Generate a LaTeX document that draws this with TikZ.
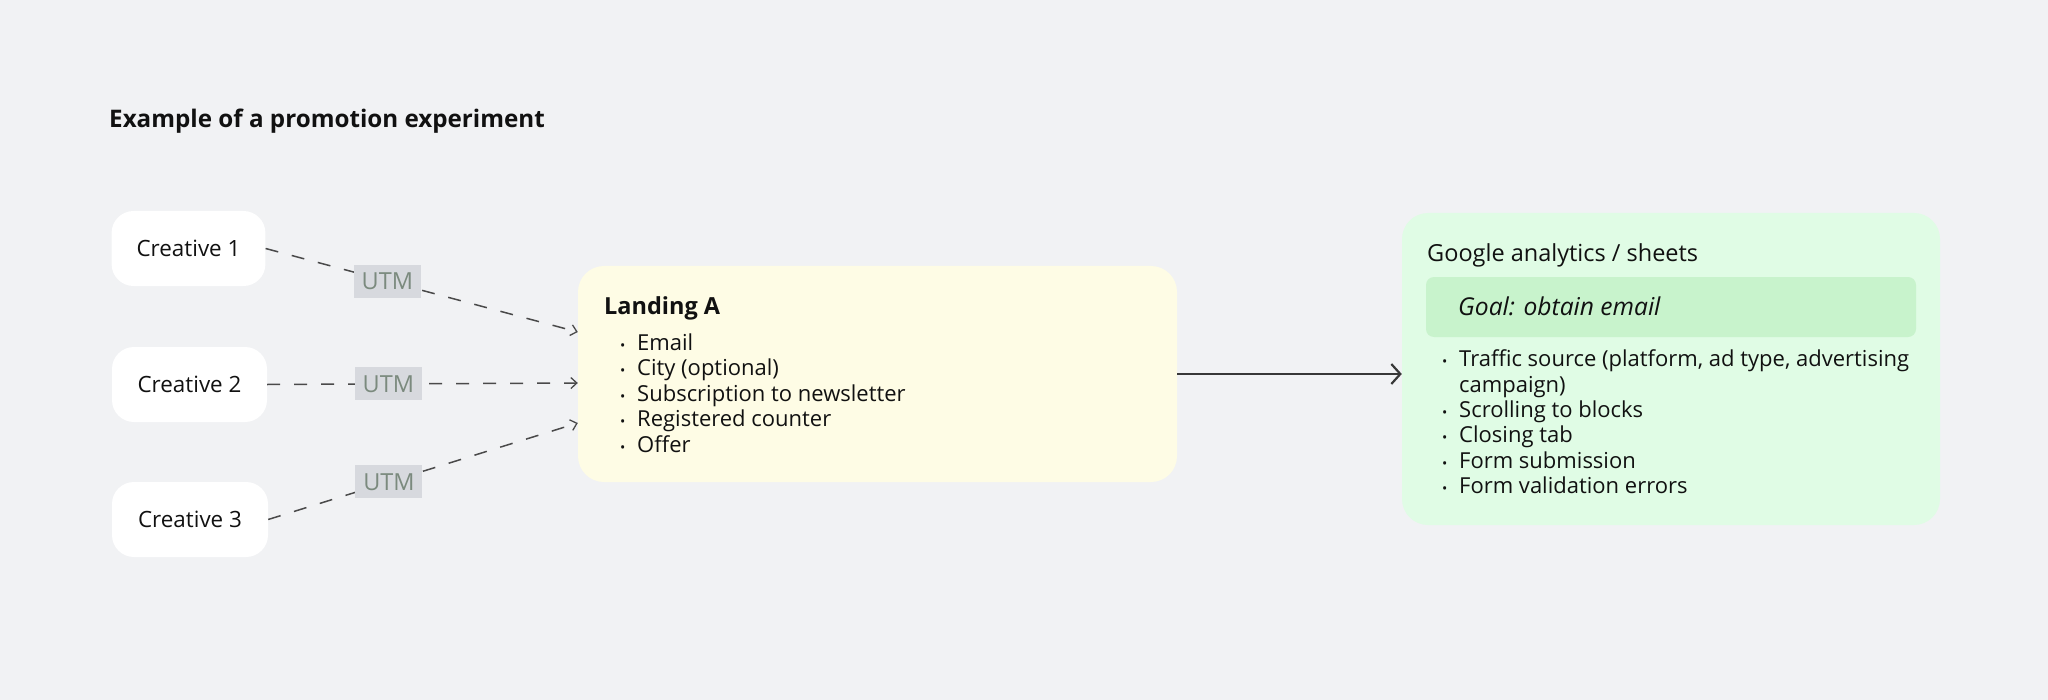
\documentclass[tikz,border=0pt]{standalone}
\usepackage{fontspec}
\setmainfont{Open Sans}
\usetikzlibrary{arrows.meta,calc}
\definecolor{bg}{HTML}{F1F2F4}
\definecolor{landfill}{HTML}{FEFCE5}
\definecolor{greenfill}{HTML}{E0FCE5}
\definecolor{goalfill}{HTML}{C8F3CC}
\definecolor{utmfill}{HTML}{D7D9DE}
\definecolor{utmtext}{HTML}{7B8A7E}
\definecolor{txt}{HTML}{111111}
\definecolor{dashcol}{HTML}{4A4A4A}
\definecolor{solidcol}{HTML}{383838}
\tikzset{
  creative/.style={fill=white, rounded corners=22bp, minimum height=75bp, inner xsep=25bp, inner ysep=0pt, text=txt, font=\fontsize{22.4bp}{27bp}\selectfont},
  utm/.style={fill=utmfill, text=utmtext, inner sep=0pt, minimum width=67bp, minimum height=33bp, font=\fontsize{23.5bp}{28bp}\selectfont},
  flow/.style={draw=dashcol, line width=1.5bp, dash pattern=on 13bp off 14bp, -{Straight Barb[length=6bp,width=11bp,line width=1.3bp]}},
  mainflow/.style={draw=solidcol, line width=2.2bp, -{Straight Barb[length=9bp,width=20bp,line width=2.2bp]}},
  panel/.style={rounded corners=26bp, inner sep=0pt},
  item/.style={anchor=base west, inner sep=0pt, text=txt, font=\fontsize{22bp}{25bp}\selectfont},
  bul/.style={anchor=base west, inner sep=0pt, text=txt, font=\fontsize{14bp}{25bp}\selectfont},
  heading/.style={anchor=base west, inner sep=0pt, text=txt},
}
\begin{document}
\begin{tikzpicture}[x=1bp, y=-1bp]
\useasboundingbox[fill=bg] (0,0) rectangle (2048,700);

% title
\node[heading, font=\fontsize{24.2bp}{30bp}\selectfont\bfseries] (title) at (109,128) {Example of a promotion experiment};

% creatives
\node[creative, minimum width=153bp] (c1) at (188.5,248.5) {Creative 1};
\node[creative, minimum width=155bp] (c2) at (189.5,384.5) {Creative 2};
\node[creative, minimum width=156bp] (c3) at (190,519.5) {Creative 3};

% landing
\node[panel, fill=landfill, minimum width=599bp, minimum height=216bp] (L) at (877.5,374) {};
\node[heading, font=\fontsize{23.5bp}{28bp}\selectfont\bfseries] (Lt) at (604,314) {Landing A};
\foreach \t [count=\i] in {{Email},{City (optional)},{Subscription to newsletter},{Registered counter},{Offer}} {
  \node[bul] (lb\i) at (620,{350+(\i-1)*25.5}) {•};
  \node[item] (li\i) at (637,{350+(\i-1)*25.5}) {\t};
}

% google
\node[panel, fill=greenfill, minimum width=538bp, minimum height=312bp] (G) at (1671,369) {};
\node[heading, font=\fontsize{23.5bp}{28bp}\selectfont] (Gt) at (1427,261) {Google analytics / sheets};
\node[fill=goalfill, rounded corners=8bp, minimum width=490bp, minimum height=60bp, inner sep=0pt] (goal) at (1671,307) {};
\node[heading, font=\fontsize{24.6bp}{28bp}\selectfont\itshape] (goalt) at (1458,315) {Goal: obtain email};
\node[bul] (gb1) at (1442,366) {•};
\node[item] (gi1) at (1459,366) {Traffic source (platform, ad type, advertising};
\node[item] (gi1b) at (1459,392) {campaign)};
\foreach \t [count=\i] in {{Scrolling to blocks},{Closing tab},{Form submission},{Form validation errors}} {
  \node[bul] (gb\i x) at (1442,{417+(\i-1)*25.6}) {•};
  \node[item] (gi\i x) at (1459,{417+(\i-1)*25.6}) {\t};
}

% connectors
\draw[flow] (c1.east) -- node[utm, pos=0.39] (u1) {UTM} ($(L.west)+(0,-42)$);
\draw[flow] (c2.east) -- node[utm, pos=0.39] (u2) {UTM} ($(L.west)+(0,9)$);
\draw[flow] (c3.east) -- node[utm, pos=0.39] (u3) {UTM} ($(L.west)+(0,49)$);
\draw[mainflow] (L.east) -- (L.east -| G.west);
\end{tikzpicture}
\end{document}
